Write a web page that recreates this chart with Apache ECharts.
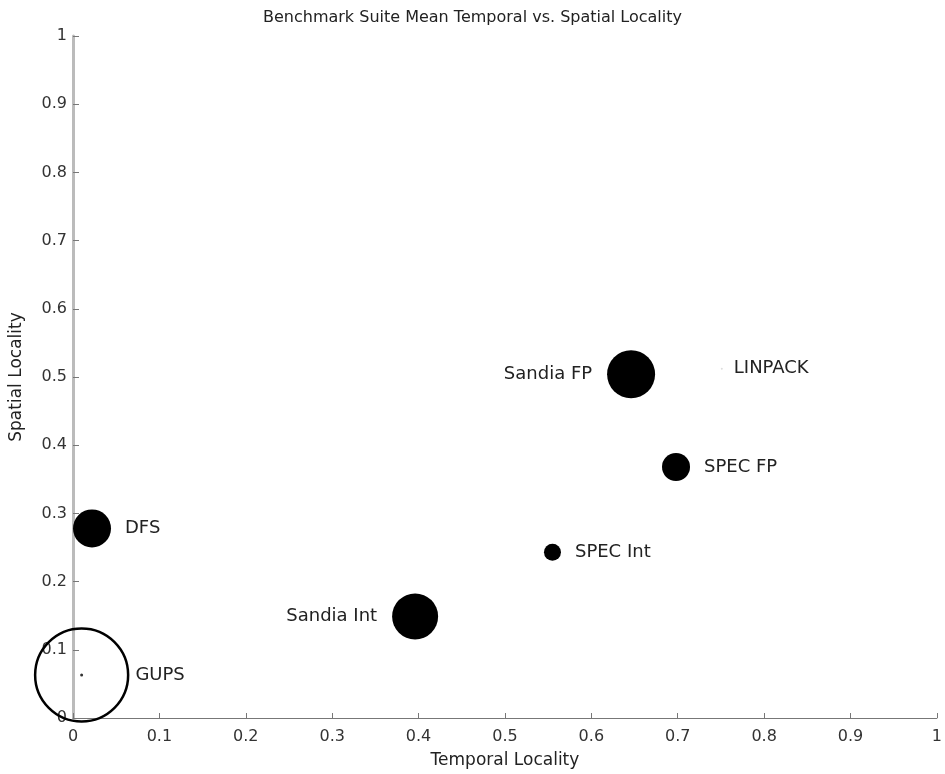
<!DOCTYPE html>
<html>
<head>
<meta charset="utf-8">
<style>
    html, body { margin: 0; padding: 0; background: #fff; }
    #chart { width: 945px; height: 774px; }
</style>
<script src="https://cdn.jsdelivr.net/npm/echarts@6/dist/echarts.min.js"></script>
</head>
<body>
<div id="chart"></div>
<script>
    // benchmark suites
    var names = ['GUPS', 'DFS', 'Sandia Int', 'SPEC Int', 'Sandia FP', 'SPEC FP', 'LINPACK'];
    var temporal = [0.010, 0.022, 0.396, 0.555, 0.646, 0.698, 0.751];
    var spatial = [0.063, 0.278, 0.149, 0.243, 0.504, 0.368, 0.512];
    // bubble size (diameter)
    var bubble = [93, 38, 46, 17, 48, 28, 2];

    var font = 'DejaVu Sans';

    var points = [];
    for (var i = 0; i < names.length; i++) {
        var leftSide = names[i] === 'Sandia Int' || names[i] === 'Sandia FP';
        var item = {
            name: names[i],
            value: [temporal[i], spatial[i], bubble[i]],
            label: {
                position: leftSide ? 'left' : 'right',
                distance: leftSide ? 15 : 14
            }
        };
        if (names[i] === 'GUPS') { // 空心圆
            item.itemStyle = { color: 'rgba(0,0,0,0)', borderColor: '#000', borderWidth: 2.5 };
            item.label.distance = 6;
        }
        if (names[i] === 'LINPACK') {
            item.itemStyle = { color: '#ddd' };
            item.label.distance = 11;
        }
        points.push(item);
    }

    var myChart = echarts.init(document.getElementById('chart'));
    myChart.setOption({
        animation: false,
        title: {
            text: 'Benchmark Suite Mean Temporal vs. Spatial Locality',
            left: 'center',
            top: 5,
            textStyle: { fontFamily: font, fontSize: 16, fontWeight: 'normal', color: '#222' }
        },
        grid: { left: 73, right: 4, top: 36, bottom: 53 },
        xAxis: {
            type: 'value',
            min: 0, max: 1, interval: 0.1,
            name: 'Temporal Locality',
            nameLocation: 'middle',
            nameGap: 34,
            nameTextStyle: { fontFamily: font, fontSize: 17, color: '#222' },
            splitLine: { show: false },
            axisLine: { lineStyle: { color: '#777', width: 1 } },
            axisTick: { inside: true, length: 5, lineStyle: { color: '#777' } },
            axisLabel: {
                fontFamily: font, fontSize: 16, color: '#333', margin: 11,
                formatter: function (v) { return String(+v.toFixed(1)); }
            }
        },
        yAxis: {
            type: 'value',
            min: 0, max: 1, interval: 0.1,
            name: 'Spatial Locality',
            nameLocation: 'middle',
            nameGap: 48,
            nameTextStyle: { fontFamily: font, fontSize: 17, color: '#222' },
            splitLine: { show: false },
            axisLine: { lineStyle: { color: '#bbb', width: 3 } },
            axisTick: { inside: true, length: 6, lineStyle: { color: '#777' } },
            axisLabel: {
                fontFamily: font, fontSize: 16, color: '#333', margin: 6,
                formatter: function (v) { return String(+v.toFixed(1)); }
            }
        },
        series: [
            {
                type: 'scatter',
                data: points,
                symbol: 'circle',
                symbolSize: function (val) { return val[2]; },
                itemStyle: { color: '#000', opacity: 1 },
                label: {
                    show: true,
                    formatter: '{b}',
                    fontFamily: font,
                    fontSize: 18,
                    color: '#222'
                }
            },
            {
                // GUPS 中心点
                type: 'scatter',
                data: [[temporal[0], spatial[0]]],
                symbolSize: 3,
                itemStyle: { color: '#000' },
                silent: true
            }
        ]
    });
</script>
</body>
</html>
